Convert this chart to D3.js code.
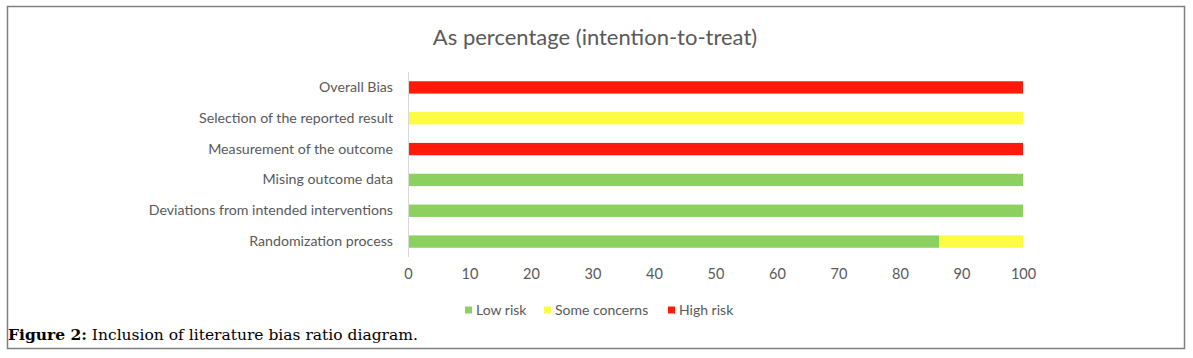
<!DOCTYPE html>
<html><head><meta charset="utf-8">
<script src="https://cdn.jsdelivr.net/npm/d3@7"></script>
<style>html,body{margin:0;padding:0;background:#fff;}svg{display:block;}</style>
</head><body>
<svg id="chart" width="1193" height="358"></svg>
<script>
const categories = ["Overall Bias","Selection of the reported result","Measurement of the outcome","Mising outcome data","Deviations from intended interventions","Randomization process"];
const lowRisk = [0,0,0,100,100,86.4];
const someConcerns = [0,100,0,0,0,13.6];
const highRisk = [100,0,100,0,0,0];
const seriesNames = ["Low risk","Some concerns","High risk"];
const xTicks = [0,10,20,30,40,50,60,70,80,90,100];
const colors = ["#8cd05f","#fcfc45","#ff1a0a"];

const svg = d3.select("#chart");
const font = "Lato, 'Open Sans', sans-serif";
const textColor = "#595959";

svg.append("rect").attr("x",7.5).attr("y",6.5).attr("width",1177).attr("height",342)
  .attr("fill","none").attr("stroke","#808080").attr("stroke-width",1.5);

svg.append("text").attr("x",595).attr("y",45).attr("text-anchor","middle")
  .attr("font-family",font).attr("font-size",22).attr("fill",textColor)
  .text("As percentage (intention-to-treat)");

const x = d3.scaleLinear().domain([0,100]).range([408,1023]);
const y = d3.scaleBand().domain(categories).range([72,257]).paddingInner(0.6).paddingOuter(0.3);

const data = categories.map((c,i)=>({cat:c, vals:[lowRisk[i],someConcerns[i],highRisk[i]]}));
const stack = d3.stack().keys([0,1,2]).value((d,k)=>d.vals[k]);
const stacked = stack(data);

svg.append("g").selectAll("g").data(stacked).join("g").attr("fill",(d,i)=>colors[i])
  .selectAll("rect").data(d=>d.map(p=>({p, cat:p.data.cat}))).join("rect")
  .attr("x",d=>x(d.p[0])).attr("width",d=>x(d.p[1])-x(d.p[0]))
  .attr("y",d=>y(d.cat)).attr("height",y.bandwidth());

// y axis line
svg.append("line").attr("x1",408.5).attr("x2",408.5).attr("y1",72).attr("y2",257)
  .attr("stroke","#d9d9d9").attr("stroke-width",1);

// y labels
const yAxis = d3.axisLeft(y).tickSize(0).tickPadding(15);
const ya = svg.append("g").attr("transform","translate(408,0)").call(yAxis);
ya.select(".domain").remove();
ya.selectAll("text").attr("font-family",font).attr("font-size",14.2).attr("fill",textColor);

// x axis
const xAxis = d3.axisBottom(x).tickValues(xTicks).tickSize(0).tickPadding(0);
const xa = svg.append("g").attr("transform","translate(0,269)").call(xAxis);
xa.select(".domain").remove();
xa.selectAll("text").attr("font-family",font).attr("font-size",14.5).attr("fill",textColor);

// legend
const legendX = [465,544,668];
const lg = svg.append("g").selectAll("g").data(seriesNames).join("g")
  .attr("transform",(d,i)=>`translate(${legendX[i]},0)`);
lg.append("rect").attr("x",0).attr("y",306.5).attr("width",7).attr("height",7).attr("fill",(d,i)=>colors[i]);
lg.append("text").attr("x",11).attr("y",315).attr("font-family",font).attr("font-size",14)
  .attr("fill",textColor).text(d=>d);

// caption
const cap = svg.append("text").attr("x",8).attr("y",340).attr("font-family","'DejaVu Serif', serif")
  .attr("font-size",15.5).attr("fill","#000");
cap.append("tspan").attr("font-weight","bold").text("Figure 2:");
cap.append("tspan").text(" Inclusion of literature bias ratio diagram.");
</script>
</body></html>
